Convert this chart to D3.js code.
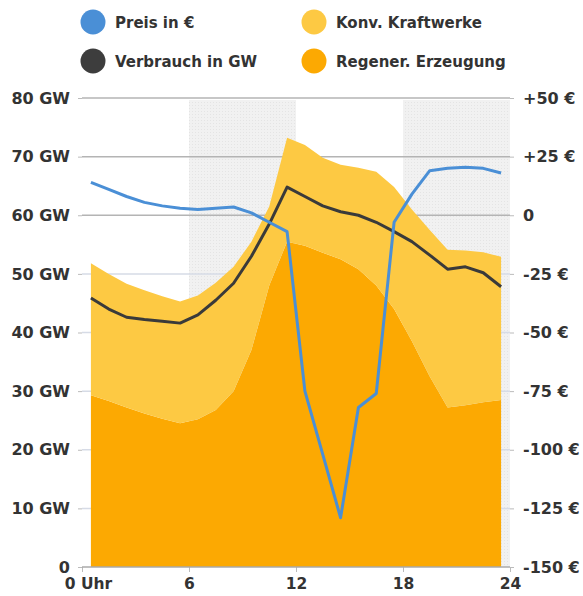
<!DOCTYPE html>
<html>
<head>
<meta charset="utf-8">
<script src="https://cdn.jsdelivr.net/npm/d3@7/dist/d3.min.js"></script>
<style>
  html, body { margin: 0; padding: 0; background: #fff; }
  svg { display: block; }
  text { font-family: "DejaVu Sans", Verdana, sans-serif; fill: #333; }
</style>
</head>
<body>
<svg id="chart" width="583" height="596"></svg>
<script>
// ---- data ----
const hours = [0.5,1.5,2.5,3.5,4.5,5.5,6.5,7.5,8.5,9.5,10.5,11.5,12.5,13.5,14.5,15.5,16.5,17.5,18.5,19.5,20.5,21.5,22.5,23.5];
const regen = [29.3,28.3,27.2,26.2,25.3,24.5,25.2,26.8,30,37,48,55.5,54.8,53.6,52.5,50.8,48,44,38.5,32.5,27.2,27.6,28.1,28.5];
const konv  = [22.5,21.7,21.1,21.0,20.9,20.8,21.1,21.7,21.2,18.5,13.5,17.7,17.2,16.2,16.1,17.3,19.4,20.8,22.5,25,26.9,26.4,25.6,24.4];
const verbrauch = [45.9,44,42.6,42.2,41.9,41.6,43,45.5,48.4,53,58.5,64.8,63.2,61.6,60.6,60,58.8,57.2,55.5,53.2,50.8,51.2,50.2,47.8];
const preis = [14,11,8,5.5,4,3,2.5,3,3.5,1,-3,-7,-75,-102,-129,-82,-76,-3,9,19,20,20.5,20,18];
const gwTicks = [0,10,20,30,40,50,60,70,80];
const gwLabels = ["0","10 GW","20 GW","30 GW","40 GW","50 GW","60 GW","70 GW","80 GW"];
const euroTicks = [-150,-125,-100,-75,-50,-25,0,25,50];
const euroLabels = ["-150 €","-125 €","-100 €","-75 €","-50 €","-25 €","0","+25 €","+50 €"];
const hourTicks = [0,6,12,18,24];
const hourLabels = ["0 Uhr","6","12","18","24"];
const shadedRanges = [[6,12],[18,24]];
const legendItems = [
  {name:"Preis in €", color:"#4a8fd6"},
  {name:"Verbrauch in GW", color:"#3d3d3d"},
  {name:"Konv. Kraftwerke", color:"#fdc943"},
  {name:"Regener. Erzeugung", color:"#fca902"}
];

// ---- layout ----
const svg = d3.select("#chart");
const x = d3.scaleLinear().domain([0,24]).range([82,510]);
const y = d3.scaleLinear().domain([0,80]).range([567,98]);
const yP = d3.scaleLinear().domain([-150,50]).range([567,98]);

// shaded bands
svg.append("defs").append("pattern")
  .attr("id","dots").attr("width",3).attr("height",3).attr("patternUnits","userSpaceOnUse")
  .call(p => {
    p.append("rect").attr("width",3).attr("height",3).attr("fill","#f1f1f1");
    p.append("rect").attr("width",1).attr("height",1).attr("fill","#e4e4e4");
  });
svg.append("g").selectAll("rect").data(shadedRanges).join("rect")
  .attr("x", d => x(d[0])).attr("width", d => x(d[1]) - x(d[0]))
  .attr("y", y(80)+2).attr("height", y(0) - y(80) - 2)
  .attr("fill","url(#dots)");

// gridlines
svg.append("g").selectAll("line").data(gwTicks.filter(d => d > 0)).join("line")
  .attr("x1", x(0)).attr("x2", x(24))
  .attr("y1", d => y(d)).attr("y2", d => y(d))
  .attr("stroke", d => d >= 60 ? "#b4b4b4" : "#d6dbe6")
  .attr("stroke-width", 1.5);

// stacked areas
const rows = hours.map((h,i) => ({h, regen: regen[i], konv: konv[i]}));
const stack = d3.stack().keys(["regen","konv"])(rows);
const area = d3.area().x(d => x(d.data.h)).y0(d => y(d[0])).y1(d => y(d[1]));
const areaColors = {regen:"#fca902", konv:"#fdc943"};
svg.append("g").selectAll("path").data(stack).join("path")
  .attr("d", area).attr("fill", d => areaColors[d.key]);

// lines
const lineV = d3.line().x((d,i) => x(hours[i])).y(d => y(d));
svg.append("path").datum(verbrauch).attr("d", lineV)
  .attr("fill","none").attr("stroke","#3a3a3a").attr("stroke-width",3).attr("stroke-linejoin","round");
const lineP = d3.line().x((d,i) => x(hours[i])).y(d => yP(d));
svg.append("path").datum(preis).attr("d", lineP)
  .attr("fill","none").attr("stroke","#4a8fd6").attr("stroke-width",3).attr("stroke-linejoin","round");

// axes
const axisStyle = size => g => {
  g.select(".domain").remove();
  g.selectAll(".tick line").attr("stroke","#bbb");
  g.selectAll(".tick text").style("font-size", size + "px").style("font-weight","bold").attr("fill","#333");
};
svg.append("g").attr("transform",`translate(${x(0)},0)`)
  .call(d3.axisLeft(y).tickValues(gwTicks).tickFormat((d,i) => gwLabels[i]).tickSize(4).tickPadding(8))
  .call(axisStyle(16));
svg.append("g").attr("transform",`translate(${x(24)},0)`)
  .call(d3.axisRight(yP).tickValues(euroTicks).tickFormat((d,i) => euroLabels[i]).tickSize(4).tickPadding(9))
  .call(axisStyle(16));
const xg = svg.append("g").attr("transform",`translate(0,${y(0)})`)
  .call(d3.axisBottom(x).tickValues(hourTicks).tickFormat((d,i) => hourLabels[i]).tickSize(5).tickPadding(6))
  .call(axisStyle(15.5));
xg.selectAll(".tick text").filter((d,i) => i === 0).attr("dx", 6);
xg.append("line").attr("x1", x(0)).attr("x2", x(24)).attr("stroke","#aaa").attr("stroke-width",1.5);

// legend
const lg = svg.append("g");
const legCx = [93, 314], legCy = [22, 61];
legendItems.forEach((it,i) => {
  const cx = legCx[Math.floor(i/2)], cy = legCy[i % 2];
  lg.append("circle").attr("cx",cx).attr("cy",cy).attr("r",12.5).attr("fill",it.color);
  lg.append("text").attr("x",cx+22).attr("y",cy+6)
    .style("font-size","15px").style("font-weight","bold").attr("fill","#3a3a3a").text(it.name);
});
</script>
</body>
</html>
